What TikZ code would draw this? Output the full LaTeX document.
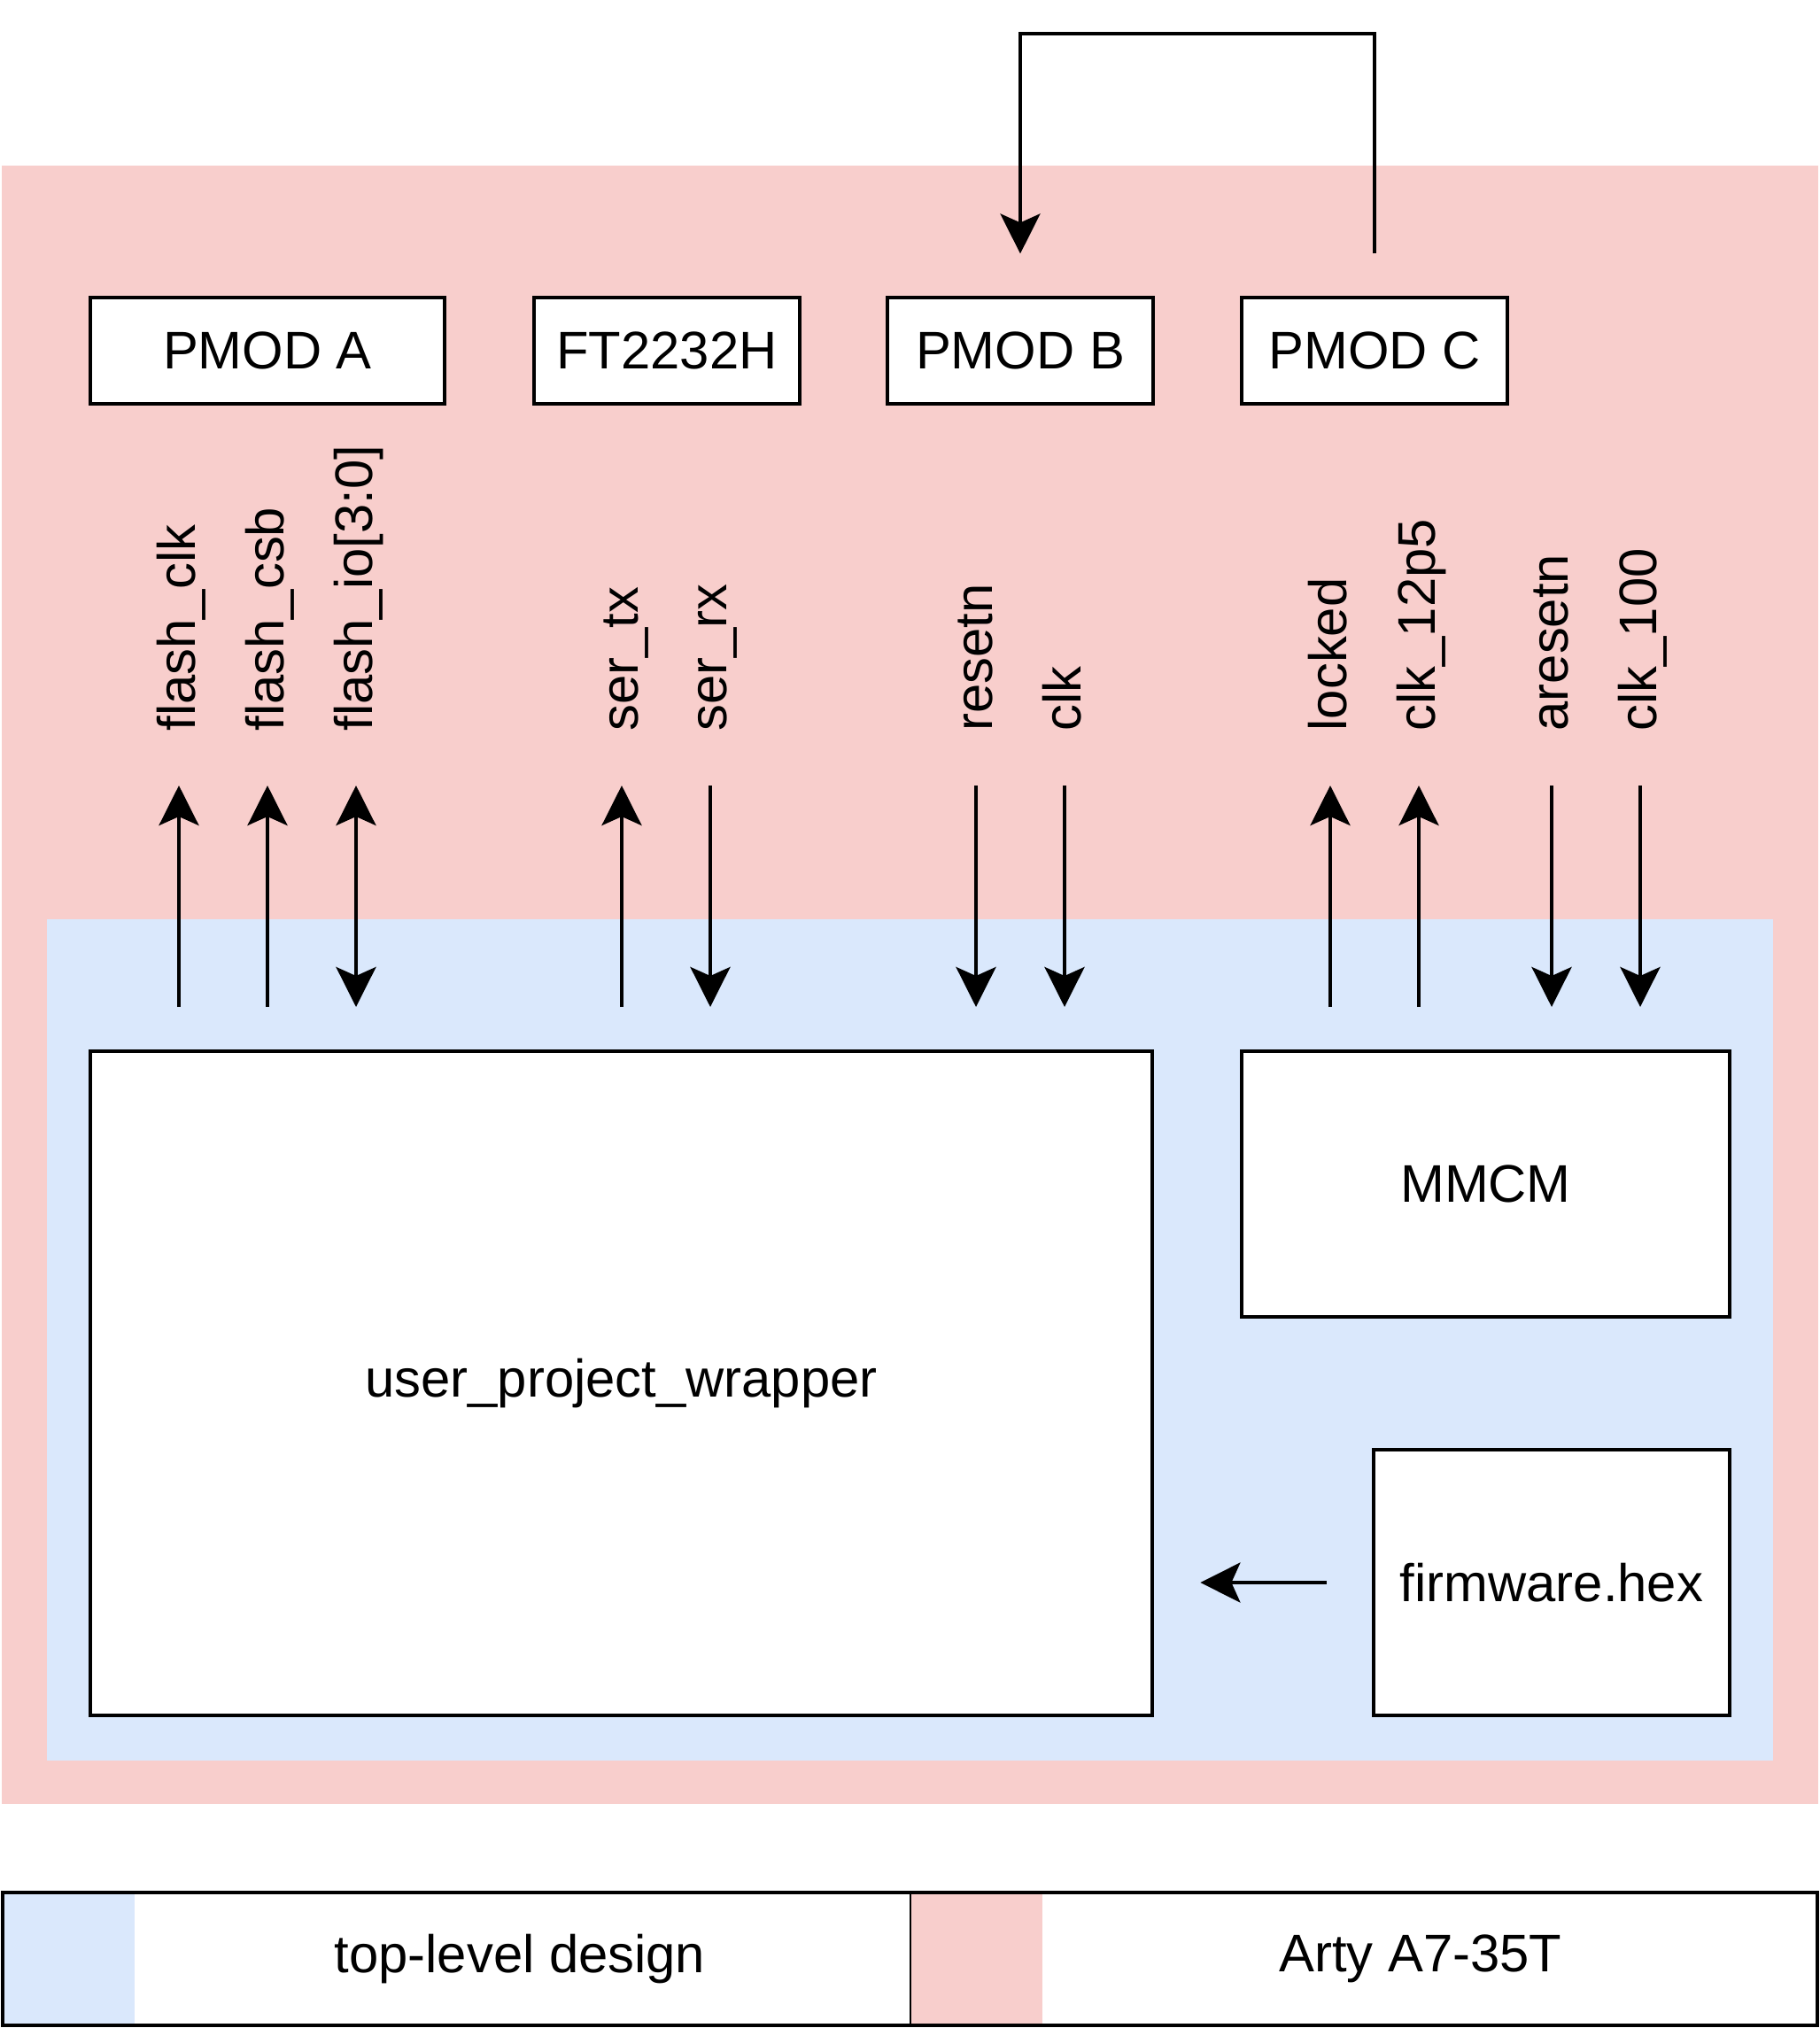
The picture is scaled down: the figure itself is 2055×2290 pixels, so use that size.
\documentclass[tikz,border=0pt]{standalone}
\usepackage{fontspec}
\setmainfont{Liberation Sans}
\usepackage{tikz}
\usetikzlibrary{arrows.meta,positioning}

\definecolor{artypink}{HTML}{F8CECC}
\definecolor{toplvl}{HTML}{DAE8FC}

\begin{document}
\begin{tikzpicture}[x=0.01cm,y=-0.01cm,
    >={Stealth[length=4.5mm,width=4.5mm,inset=1mm]},
    every node/.style={font=\fontsize{17}{20}\selectfont},
    blk/.style={draw,line width=1.15pt,fill=white,inner sep=0pt},
    sig/.style={rotate=90,anchor=base west,inner sep=0pt},
    wire/.style={line width=1.15pt}]
  \useasboundingbox (0,0) rectangle (2055,2290);

  % Board and design regions
  \fill[artypink] (2,187) rectangle (2053,2037);
  \fill[toplvl] (53,1038) rectangle (2002,1988);

  % Board connectors
  \node[blk,minimum width=4cm,minimum height=1.19cm] (pmoda) at (302,396) {PMOD A};
  \node[blk,minimum width=3cm,minimum height=1.19cm] (ftdi) at (753,396) {FT2232H};
  \node[blk,minimum width=3cm,minimum height=1.19cm] (pmodb) at (1152,396) {PMOD B};
  \node[blk,minimum width=3cm,minimum height=1.19cm] (pmodc) at (1552,396) {PMOD C};

  % Loopback PMOD C -> PMOD B
  \coordinate (lbout) at ([yshift=0.48cm]pmodc.north);
  \coordinate (lbin) at ([yshift=0.48cm]pmodb.north);
  \draw[wire,->] (lbout) -- ++(0,-248) -| (lbin);

  % Top-level blocks
  \node[blk,minimum width=11.99cm,minimum height=7.5cm] (upw) at (701.5,1562) {user\_project\_wrapper};
  \node[blk,minimum width=5.51cm,minimum height=3cm] (mmcm) at (1677.5,1337) {MMCM};
  \node[blk,minimum width=4.02cm,minimum height=3cm] (fw) at (1752,1787) {firmware.hex};

  \coordinate (fwout) at ([xshift=-0.51cm]fw.west);
  \coordinate (fwin) at ([xshift=0.52cm]upw.east);
  \draw[wire,->] (fwout) -- (fwout -| fwin);

  % Signals
  \foreach \x/\name/\txt/\dir in {202/fclk/{flash\_clk}/->, 302/fcsb/{flash\_csb}/->,
      402/fio/{flash\_io[3:0]}/<->, 702/stx/{ser\_tx}/->, 802/srx/{ser\_rx}/<-,
      1102/rstn/{resetn}/<-, 1202/clk/{clk}/<-, 1502/lock/{locked}/->,
      1602/clks/{clk\_12p5}/->, 1752/arstn/{aresetn}/<-, 1852/clkh/{clk\_100}/<-} {
    \node[sig] (l\name) at (\x+18,826) {\txt};
    \coordinate (\name top) at (\x,887);
    \coordinate (\name bot) at (\x,1137);
    \draw[wire,\dir] (\name bot) -- (\name top);
  }

  % Legend
  \fill[toplvl] (3,2137) rectangle (152,2287);
  \fill[artypink] (1028,2137) rectangle (1177,2287);
  \node (legtop) at (587,2212) {top-level design};
  \node (legarty) at (1604,2212) {Arty A7-35T};
  \draw[wire] (3,2137) rectangle (2052,2287);
  \draw[line width=0.8pt] (1028,2137) -- (1028,2287);
\end{tikzpicture}
\end{document}
